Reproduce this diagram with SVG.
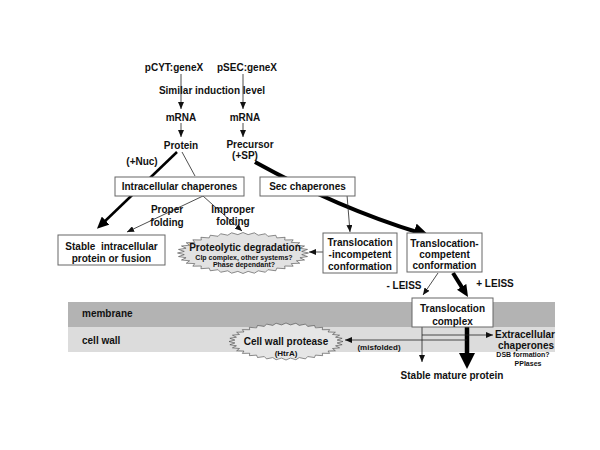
<svg xmlns="http://www.w3.org/2000/svg" xmlns:xlink="http://www.w3.org/1999/xlink" width="600" height="450" viewBox="0 0 600 450">
<style>
text{font-family:"Liberation Sans",Arial,sans-serif;font-weight:bold;fill:#111;text-anchor:middle}
.t10{font-size:10px}
.t8{font-size:8px}
.t7{font-size:7px}
.box{fill:#fff;stroke:#666;stroke-width:1}
.thin{fill:none;stroke:#222;stroke-width:0.8}
.thick{fill:none;stroke:#000}
.star{stroke:#444;stroke-width:0.6}
</style>
<defs>
<marker id="ah" markerUnits="userSpaceOnUse" markerWidth="7" markerHeight="6" refX="7" refY="3" orient="auto"><path d="M0,0 L7,3 L0,6 z" fill="#111"/></marker>
<marker id="am" markerUnits="userSpaceOnUse" markerWidth="12" markerHeight="11" refX="5" refY="5.5" orient="auto"><path d="M0,0 L12,5.5 L0,11 z" fill="#000"/></marker>
<marker id="ab" markerUnits="userSpaceOnUse" markerWidth="16" markerHeight="16" refX="6" refY="8" orient="auto"><path d="M0,0 L16,8 L0,16 z" fill="#000"/></marker>
<polygon id="burst" vector-effect="non-scaling-stroke" points="1,0 .8966,.0785 .9848,.1736 .8693,.2329 .9397,.342 .8157,.3803 .866,.5 .7373,.5162 .766,.6428 .6364,.6364 .6428,.766 .5162,.7373 .5,.866 .3803,.8157 .342,.9397 .2329,.8693 .1736,.9848 .0785,.8966 0,1 -.0785,.8966 -.1736,.9848 -.2329,.8693 -.342,.9397 -.3803,.8157 -.5,.866 -.5162,.7373 -.6428,.766 -.6364,.6364 -.766,.6428 -.7373,.5162 -.866,.5 -.8157,.3803 -.9397,.342 -.8693,.2329 -.9848,.1736 -.8966,.0785 -1,0 -.8966,-.0785 -.9848,-.1736 -.8693,-.2329 -.9397,-.342 -.8157,-.3803 -.866,-.5 -.7373,-.5162 -.766,-.6428 -.6364,-.6364 -.6428,-.766 -.5162,-.7373 -.5,-.866 -.3803,-.8157 -.342,-.9397 -.2329,-.8693 -.1736,-.9848 -.0785,-.8966 0,-1 .0785,-.8966 .1736,-.9848 .2329,-.8693 .342,-.9397 .3803,-.8157 .5,-.866 .5162,-.7373 .6428,-.766 .6364,-.6364 .766,-.6428 .7373,-.5162 .866,-.5 .8157,-.3803 .9397,-.342 .8693,-.2329 .9848,-.1736 .8966,-.0785"/>
</defs>

<g id="bands">
<rect x="68" y="302" width="487" height="25" fill="#b3b3b3"/>
<rect x="68" y="327" width="487" height="25" fill="#dcdcdc"/>
<text class="t10" x="82" y="317" style="text-anchor:start">membrane</text>
<text class="t10" x="82" y="344" style="text-anchor:start">cell wall</text>
</g>

<g id="labels">
<text class="t10" x="174" y="71">pCYT:geneX</text>
<text class="t10" x="247" y="71">pSEC:geneX</text>
<text class="t10" x="181" y="121">mRNA</text>
<text class="t10" x="245" y="121">mRNA</text>
<text class="t10" x="181" y="149">Protein</text>
<text class="t10" x="250" y="148">Precursor</text>
<text class="t10" x="245" y="159">(+SP)</text>
</g>

<g id="connectors">
<line class="thin" x1="181" y1="74" x2="181" y2="109" marker-end="url(#ah)"/>
<line class="thin" x1="243" y1="74" x2="243" y2="109" marker-end="url(#ah)"/>
<line class="thin" x1="181" y1="123" x2="181" y2="137" marker-end="url(#ah)"/>
<line class="thin" x1="243" y1="123" x2="243" y2="137" marker-end="url(#ah)"/>
<line class="thick" stroke-width="2.5" x1="177" y1="152" x2="102" y2="224" marker-end="url(#am)"/>
<line class="thin" x1="182" y1="152" x2="195" y2="176"/>
<line class="thin" x1="203" y1="196" x2="127" y2="232" marker-end="url(#ah)"/>
<line class="thin" x1="203" y1="196" x2="242" y2="231" marker-end="url(#ah)"/>
<path class="thick" stroke-width="4" d="M255,162 Q338,208 420,233" marker-end="url(#ab)"/>
<line class="thin" x1="347" y1="195" x2="350" y2="232" marker-end="url(#ah)"/>
<line class="thin" x1="323" y1="252" x2="309" y2="252" marker-end="url(#ah)"/>
<line class="thin" x1="438" y1="273" x2="423" y2="295" marker-end="url(#ah)"/>
<line class="thick" stroke-width="4" x1="453" y1="273" x2="464.3" y2="291.1" marker-end="url(#am)"/>
<line class="thin" x1="422" y1="327" x2="422" y2="362" marker-end="url(#ah)"/>
<line class="thick" stroke-width="4.5" x1="467" y1="327" x2="467" y2="359" marker-end="url(#ab)"/>
<line class="thin" x1="422" y1="335" x2="493" y2="335" marker-end="url(#ah)"/>
<line class="thin" x1="467" y1="340" x2="345" y2="340" marker-end="url(#ah)"/>
<text class="t10" x="212" y="94">Similar induction level</text>
<text class="t10" x="142" y="165">(+Nuc)</text>
<text class="t10" x="167" y="213">Proper</text>
<text class="t10" x="167" y="226">folding</text>
<text class="t10" x="233" y="213">Improper</text>
<text class="t10" x="233" y="225">folding</text>
<text class="t10" x="404" y="289">- LEISS</text>
<text class="t10" x="495" y="287">+ LEISS</text>
<text class="t8" x="379" y="350">(misfolded)</text>
</g>

<g id="intracellular-chaperones">
<rect class="box" x="115" y="177" width="129" height="19"/>
<text class="t10" x="179.5" y="190">Intracellular chaperones</text>
</g>

<g id="sec-chaperones">
<rect class="box" x="260" y="177" width="95" height="19"/>
<text class="t10" x="307.5" y="190">Sec chaperones</text>
</g>

<g id="stable-intracellular">
<rect class="box" x="58" y="235" width="107" height="30"/>
<text class="t10" x="111.5" y="250" xml:space="preserve">Stable  intracellular</text>
<text class="t10" x="111.5" y="262">protein or fusion</text>
</g>

<g id="proteolytic-degradation">
<use xlink:href="#burst" class="star" fill="#e2e2e2" transform="translate(243,253) scale(65.5,20.5)"/>
<text class="t10" x="245" y="251">Proteolytic degradation</text>
<text class="t7" x="244" y="259.5">Clp complex, other systems?</text>
<text class="t7" x="244" y="266.5">Phase dependant?</text>
</g>

<g id="translocation-incompetent">
<rect class="box" x="323" y="233" width="74" height="40"/>
<text class="t10" x="360" y="246">Translocation</text>
<text class="t10" x="360" y="258">-incompetent</text>
<text class="t10" x="360" y="270">conformation</text>
</g>

<g id="translocation-competent">
<rect class="box" x="407" y="233" width="75" height="39"/>
<text class="t10" x="444.5" y="247">Translocation-</text>
<text class="t10" x="444.5" y="258">competent</text>
<text class="t10" x="444.5" y="269">conformation</text>
</g>

<g id="translocation-complex">
<rect class="box" x="412" y="298" width="81" height="29"/>
<text class="t10" x="452.5" y="312">Translocation</text>
<text class="t10" x="452.5" y="325">complex</text>
</g>

<g id="cell-wall-protease">
<use xlink:href="#burst" class="star" fill="#e6e6e6" transform="translate(286,341.5) scale(57,18.5)"/>
<text class="t10" x="286" y="345">Cell wall protease</text>
<text class="t8" x="286" y="356">(HtrA)</text>
</g>

<g id="extracellular-chaperones">
<text class="t10" x="525" y="338">Extracellular</text>
<text class="t10" x="526" y="349">chaperones</text>
<text class="t7" x="523" y="356.5">DSB formation?</text>
<text class="t7" x="528" y="365.5">PPIases</text>
</g>

<g id="stable-mature-protein">
<text class="t10" x="452" y="379">Stable mature protein</text>
</g>
</svg>
